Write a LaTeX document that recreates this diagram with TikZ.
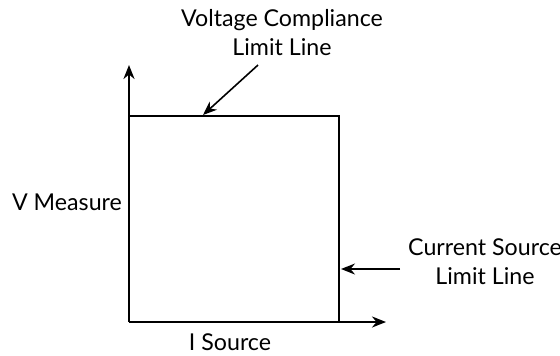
\documentclass[tikz,border=0pt]{standalone}
\usepackage{fontspec}
\setmainfont{Lato}
\usetikzlibrary{arrows.meta}
\begin{document}
\begin{tikzpicture}[x=0.5pt,y=-0.5pt,
    >={Stealth[length=7pt,width=5.5pt]},
    axis/.style={line width=1.1pt},
    pointer/.style={line width=0.8pt,->},
    lbl/.style={align=center,inner sep=0pt,font=\fontsize{11.6}{14.5}\selectfont}]
  \useasboundingbox (0,0) rectangle (560,355);
  % axes and limit box
  \coordinate (origin) at (129,322);
  \coordinate (vtip) at (129,65);
  \coordinate (itip) at (386,322);
  \coordinate (topleft) at (129,116);
  \coordinate (topright) at (339,116);
  \coordinate (botright) at (339,322);
  \draw[axis,->] (origin) -- (vtip);
  \draw[axis,->] (origin) -- (itip);
  \draw[axis] (topleft) -- (topright) -- (botright);
  % labels
  \node (vcomp) [lbl] at (282,33) {Voltage Compliance\\Limit Line};
  \node (isrc) [lbl] at (485,262) {Current Source\\Limit Line};
  \node (vmeas) [lbl] at (67,202) {V Measure};
  \node (isource) [lbl] at (230,342) {I Source};
  % pointers
  \coordinate (vfrom) at (258,65);
  \coordinate (vto) at (203,115);
  \coordinate (ifrom) at (400,269);
  \coordinate (ito) at (341,269);
  \draw[pointer] (vfrom) -- (vto);
  \draw[pointer] (ifrom) -- (ito);
\end{tikzpicture}
\end{document}
